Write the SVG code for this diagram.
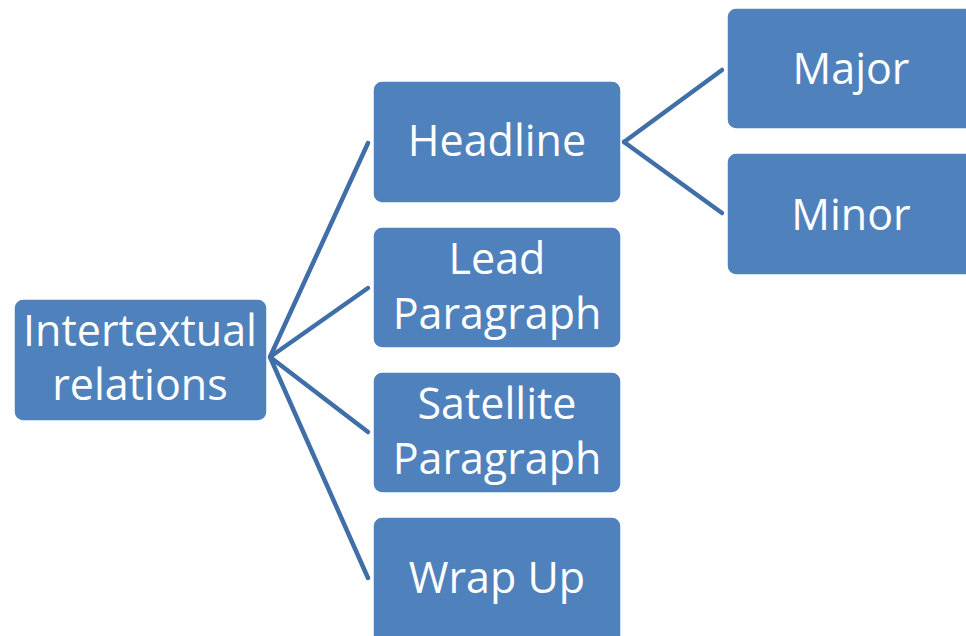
<svg xmlns="http://www.w3.org/2000/svg" width="966" height="636" viewBox="0 0 966 636">
  <style>
    .box { fill: #4f81bd; stroke: #ffffff; stroke-width: 1.5; }
    .lbl { fill: #ffffff; font-family: "Open Sans", "Liberation Sans", sans-serif; font-size: 43px; text-anchor: middle; }
    .link { stroke: #3f6fa6; stroke-width: 4.5; stroke-linecap: round; fill: none; }
  </style>
  <rect width="966" height="636" fill="#ffffff"/>

  <g id="connectors">
    <line class="link" x1="270" y1="357" x2="368" y2="143"/>
    <line class="link" x1="270" y1="357" x2="368" y2="288"/>
    <line class="link" x1="270" y1="357" x2="368" y2="432"/>
    <line class="link" x1="270" y1="357" x2="368" y2="578"/>
    <line class="link" x1="624" y1="142" x2="722" y2="70"/>
    <line class="link" x1="624" y1="142" x2="722" y2="213"/>
  </g>

  <g id="intertextual">
    <rect class="box" x="14" y="299" width="253" height="122" rx="9"/>
    <text class="lbl" x="140" y="346">Intertextual</text>
    <text class="lbl" x="140" y="400">relations</text>
  </g>

  <g id="headline">
    <rect class="box" x="373" y="81" width="248" height="122" rx="9"/>
    <text class="lbl" x="497" y="156">Headline</text>
  </g>

  <g id="lead">
    <rect class="box" x="373" y="227" width="248" height="121" rx="9"/>
    <text class="lbl" x="497" y="274">Lead</text>
    <text class="lbl" x="497" y="329">Paragraph</text>
  </g>

  <g id="satellite">
    <rect class="box" x="373" y="372" width="248" height="121" rx="9"/>
    <text class="lbl" x="497" y="419">Satellite</text>
    <text class="lbl" x="497" y="474">Paragraph</text>
  </g>

  <g id="wrapup">
    <rect class="box" x="373" y="517" width="248" height="130" rx="9"/>
    <text class="lbl" x="497" y="593">Wrap Up</text>
  </g>

  <g id="major">
    <rect class="box" x="727" y="8" width="250" height="121" rx="9"/>
    <text class="lbl" x="851" y="84">Major</text>
  </g>

  <g id="minor">
    <rect class="box" x="727" y="153" width="250" height="122" rx="9"/>
    <text class="lbl" x="851" y="230">Minor</text>
  </g>
</svg>
